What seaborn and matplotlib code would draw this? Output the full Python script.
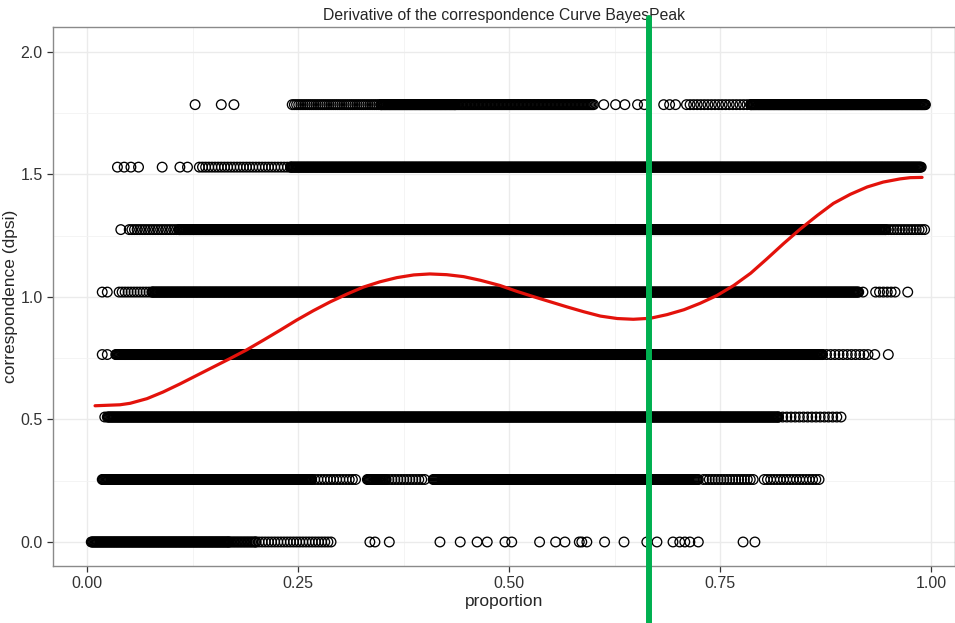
import numpy as np
import pandas as pd
import matplotlib
matplotlib.use('Agg')
import matplotlib.pyplot as plt
from matplotlib.ticker import MultipleLocator, FormatStrFormatter
import seaborn as sns

# y levels of the point rows (correspondence steps)
levels = [0.0, 0.255, 0.51, 0.765, 1.02, 1.275, 1.53, 1.785]

# each row: dense runs of points (start, end, number of points) + isolated points
runs_0 = [(0.005, 0.168, 165), (0.168, 0.200, 20), (0.200, 0.289, 25)]
single_0 = [0.335, 0.341, 0.358, 0.418, 0.442, 0.462, 0.474, 0.495, 0.503, 0.536,
            0.555, 0.566, 0.583, 0.586, 0.592, 0.613, 0.636, 0.663, 0.675, 0.694,
            0.702, 0.708, 0.714, 0.724, 0.777, 0.791]

runs_1 = [(0.018, 0.266, 250), (0.266, 0.318, 15), (0.332, 0.354, 22), (0.354, 0.400, 14),
          (0.410, 0.724, 260), (0.730, 0.789, 18), (0.802, 0.867, 18)]
single_1 = []

runs_2 = [(0.024, 0.819, 795), (0.819, 0.893, 16)]
single_2 = [0.021]

runs_3 = [(0.034, 0.871, 840), (0.871, 0.925, 12)]
single_3 = [0.018, 0.024, 0.933, 0.949]

runs_4 = [(0.038, 0.077, 12), (0.077, 0.914, 840), (0.934, 0.957, 6)]
single_4 = [0.018, 0.024, 0.919, 0.972]

runs_5 = [(0.050, 0.109, 20), (0.109, 0.946, 840), (0.946, 0.992, 15)]
single_5 = [0.040]

runs_6 = [(0.133, 0.241, 30), (0.241, 0.988, 750)]
single_6 = [0.036, 0.044, 0.052, 0.061, 0.089, 0.110, 0.119]

runs_7 = [(0.243, 0.348, 42), (0.348, 0.436, 90), (0.436, 0.600, 105), (0.710, 0.786, 19),
          (0.786, 0.993, 210)]
single_7 = [0.128, 0.159, 0.174, 0.612, 0.626, 0.637, 0.652, 0.660, 0.683, 0.690, 0.697]

# smooth fit
curve_x = [0.0095, 0.039, 0.051, 0.071, 0.090, 0.110, 0.130, 0.150, 0.169, 0.189,
           0.209, 0.229, 0.248, 0.268, 0.288, 0.308, 0.327, 0.347, 0.367, 0.387,
           0.406, 0.426, 0.446, 0.466, 0.489, 0.509, 0.529, 0.549, 0.568, 0.588,
           0.608, 0.628, 0.647, 0.667, 0.687, 0.707, 0.726, 0.746, 0.766, 0.786,
           0.805, 0.825, 0.845, 0.865, 0.884, 0.904, 0.924, 0.943, 0.963, 0.975, 0.989]
curve_y = [0.556, 0.560, 0.566, 0.585, 0.612, 0.645, 0.680, 0.715, 0.748, 0.784,
           0.824, 0.865, 0.905, 0.944, 0.980, 1.012, 1.040, 1.062, 1.079, 1.090,
           1.094, 1.091, 1.083, 1.068, 1.047, 1.023, 1.001, 0.980, 0.960, 0.940,
           0.922, 0.912, 0.909, 0.913, 0.928, 0.948, 0.974, 1.006, 1.047, 1.097,
           1.155, 1.218, 1.278, 1.333, 1.382, 1.419, 1.449, 1.469, 1.482, 1.487, 1.488]

peak_x = 0.665

#%% build the point table
all_runs = [runs_0, runs_1, runs_2, runs_3, runs_4, runs_5, runs_6, runs_7]
all_single = [single_0, single_1, single_2, single_3, single_4, single_5, single_6, single_7]

frames = []
for lev, runs, singles in zip(levels, all_runs, all_single):
    xs = list(singles)
    for a, b, n in runs:
        xs.extend(np.linspace(a, b, n))
    frames.append(pd.DataFrame({'proportion': xs, 'correspondence': lev}))
df = pd.concat(frames, ignore_index=True)

#%% plot
sns.set_style('white')
plt.rcParams['font.family'] = ['Liberation Sans', 'DejaVu Sans']

fig = plt.figure(figsize=(9.55, 6.23), dpi=100)
ax = fig.add_axes([0.0555, 0.0915, 0.9445, 0.8652])

sns.scatterplot(data=df, x='proportion', y='correspondence', ax=ax,
                marker='o', s=48, facecolor='none', edgecolor='black',
                linewidth=0.95, zorder=3)
sns.lineplot(x=curve_x, y=curve_y, ax=ax, color='#e3120b', linewidth=2.3, zorder=4)
ax.axvline(peak_x, ymin=-0.11, ymax=1.017, color='#00b050', linewidth=4.3,
           clip_on=False, zorder=5)

ax.set_xlim(-0.0403, 1.028)
ax.set_ylim(-0.098, 2.102)
ax.xaxis.set_major_locator(MultipleLocator(0.25))
ax.xaxis.set_minor_locator(MultipleLocator(0.125))
ax.yaxis.set_major_locator(MultipleLocator(0.5))
ax.yaxis.set_minor_locator(MultipleLocator(0.25))
ax.xaxis.set_major_formatter(FormatStrFormatter('%.2f'))
ax.yaxis.set_major_formatter(FormatStrFormatter('%.1f'))

ax.grid(True, which='major', color='#ebebeb', linewidth=1.0, zorder=0)
ax.grid(True, which='minor', color='#f3f3f3', linewidth=0.6, zorder=0)
ax.set_axisbelow(True)
for sp in ax.spines.values():
    sp.set_color('#8a8a8a')
    sp.set_linewidth(1.0)

ax.tick_params(which='major', direction='out', length=4, width=0.9, color='#333333',
               labelsize=11.5, labelcolor='#333333', left=True, bottom=True)
ax.tick_params(which='minor', length=0)

ax.set_xlabel('proportion', fontsize=12.5, labelpad=2)
ax.set_ylabel('correspondence (dpsi)', fontsize=12.5, labelpad=2)
ax.set_title('Derivative of the correspondence Curve BayesPeak', fontsize=11.3, pad=5)

fig.savefig('out.png', dpi=100)
